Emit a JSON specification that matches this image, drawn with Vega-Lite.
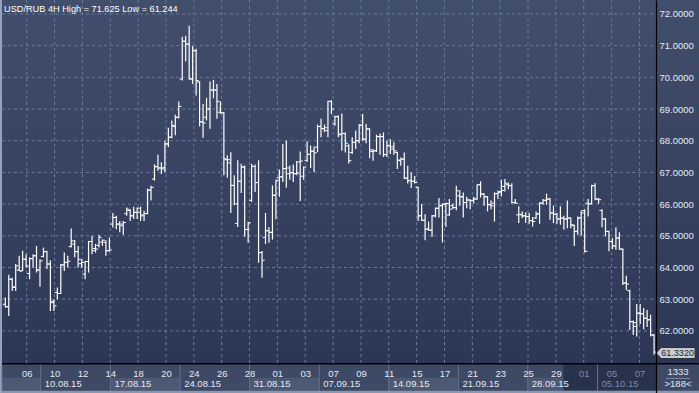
{
  "$schema": "https://vega.github.io/schema/vega-lite/v6.json",
  "width": 697,
  "height": 393,
  "autosize": "none",
  "padding": {"left": 2, "top": 0, "right": 0, "bottom": 0},
  "background": "#95a2ba",
  "config": {
    "view": {"stroke": null},
    "font": "Liberation Sans",
    "text": {"font": "Liberation Sans"},
    "axis": {"labelOverlap": false, "labelBound": false, "grid": false, "ticks": false, "labelSeparation": 0}
  },
  "datasets": {
    "bars": [
      {"i":0,"o":62.84,"h":63.05,"l":62.74,"c":62.76},
      {"i":1,"o":62.76,"h":63.77,"l":62.47,"c":63.63},
      {"i":2,"o":63.63,"h":63.68,"l":63.26,"c":63.39},
      {"i":3,"o":63.37,"h":64.11,"l":63.26,"c":64.05},
      {"i":4,"o":63.92,"h":64.37,"l":63.89,"c":63.89},
      {"i":5,"o":63.89,"h":64.53,"l":63.89,"c":64.26},
      {"i":6,"o":64.26,"h":64.42,"l":64.0,"c":64.05},
      {"i":7,"o":63.81,"h":64.32,"l":63.63,"c":64.28},
      {"i":8,"o":64.28,"h":64.42,"l":64.0,"c":64.37},
      {"i":9,"o":64.37,"h":64.68,"l":63.84,"c":63.92},
      {"i":10,"o":63.92,"h":64.26,"l":63.39,"c":64.21},
      {"i":11,"o":64.35,"h":64.63,"l":64.32,"c":64.5},
      {"i":12,"o":64.5,"h":64.53,"l":63.95,"c":64.11},
      {"i":13,"o":64.11,"h":64.23,"l":62.63,"c":62.89},
      {"i":14,"o":62.93,"h":63.0,"l":62.63,"c":62.79},
      {"i":15,"o":63.21,"h":63.37,"l":63.0,"c":63.18},
      {"i":16,"o":63.18,"h":64.11,"l":63.16,"c":64.08},
      {"i":17,"o":64.08,"h":64.47,"l":63.89,"c":64.16},
      {"i":18,"o":64.16,"h":64.37,"l":64.0,"c":64.2},
      {"i":19,"o":64.66,"h":65.23,"l":64.63,"c":64.84},
      {"i":20,"o":64.74,"h":64.87,"l":64.32,"c":64.5},
      {"i":21,"o":64.5,"h":64.68,"l":64.0,"c":64.26},
      {"i":22,"o":64.12,"h":64.26,"l":64.0,"c":64.16},
      {"i":23,"o":63.79,"h":64.21,"l":63.63,"c":64.19},
      {"i":24,"o":64.19,"h":64.84,"l":63.84,"c":64.82},
      {"i":25,"o":64.82,"h":65.0,"l":64.42,"c":64.53},
      {"i":26,"o":64.6,"h":64.74,"l":64.47,"c":64.58},
      {"i":27,"o":64.7,"h":65.03,"l":64.63,"c":64.95},
      {"i":28,"o":64.8,"h":64.89,"l":64.68,"c":64.86},
      {"i":29,"o":64.79,"h":64.86,"l":64.37,"c":64.53},
      {"i":30,"o":64.53,"h":64.95,"l":64.5,"c":64.55},
      {"i":31,"o":65.37,"h":65.72,"l":65.26,"c":65.58},
      {"i":32,"o":65.58,"h":65.63,"l":65.21,"c":65.37},
      {"i":33,"o":65.37,"h":65.47,"l":65.11,"c":65.32},
      {"i":34,"o":65.37,"h":65.47,"l":65.03,"c":65.42},
      {"i":35,"o":65.7,"h":65.89,"l":65.63,"c":65.84},
      {"i":36,"o":65.8,"h":65.84,"l":65.47,"c":65.63},
      {"i":37,"o":65.63,"h":65.92,"l":65.53,"c":65.74},
      {"i":38,"o":65.74,"h":65.89,"l":65.53,"c":65.87},
      {"i":39,"o":65.74,"h":65.92,"l":65.47,"c":65.63},
      {"i":40,"o":65.66,"h":65.79,"l":65.47,"c":65.7},
      {"i":41,"o":65.7,"h":66.49,"l":65.68,"c":66.44},
      {"i":42,"o":66.44,"h":66.58,"l":66.11,"c":66.53},
      {"i":43,"o":66.79,"h":67.26,"l":66.74,"c":67.18},
      {"i":44,"o":67.18,"h":67.56,"l":67.05,"c":67.14},
      {"i":45,"o":67.14,"h":67.32,"l":66.95,"c":67.11},
      {"i":46,"o":67.15,"h":67.99,"l":67.01,"c":67.9},
      {"i":47,"o":67.9,"h":68.41,"l":67.8,"c":68.11},
      {"i":48,"o":68.11,"h":68.64,"l":68.08,"c":68.48},
      {"i":49,"o":68.45,"h":68.82,"l":68.17,"c":68.74},
      {"i":50,"o":68.74,"h":69.24,"l":68.7,"c":69.08},
      {"i":51,"o":69.95,"h":71.28,"l":69.9,"c":71.14},
      {"i":52,"o":71.14,"h":71.31,"l":70.51,"c":71.05},
      {"i":53,"o":71.05,"h":71.625,"l":69.92,"c":69.95},
      {"i":54,"o":69.95,"h":71.0,"l":69.79,"c":70.84},
      {"i":55,"o":70.84,"h":70.9,"l":69.43,"c":69.9},
      {"i":56,"o":69.85,"h":69.88,"l":68.45,"c":68.6},
      {"i":57,"o":68.59,"h":69.16,"l":68.09,"c":68.56},
      {"i":58,"o":68.74,"h":69.35,"l":68.64,"c":69.0},
      {"i":59,"o":69.0,"h":69.87,"l":68.38,"c":69.6},
      {"i":60,"o":69.6,"h":69.92,"l":69.34,"c":69.6},
      {"i":61,"o":69.6,"h":69.79,"l":68.69,"c":69.24},
      {"i":62,"o":68.9,"h":69.24,"l":68.85,"c":68.88},
      {"i":63,"o":68.88,"h":68.9,"l":66.91,"c":67.43},
      {"i":64,"o":67.4,"h":67.54,"l":66.83,"c":67.4},
      {"i":65,"o":67.3,"h":67.64,"l":65.72,"c":66.59},
      {"i":66,"o":66.59,"h":66.91,"l":65.96,"c":66.01},
      {"i":67,"o":65.39,"h":67.38,"l":65.28,"c":66.72},
      {"i":68,"o":66.72,"h":67.27,"l":66.35,"c":67.17},
      {"i":69,"o":67.17,"h":67.22,"l":64.97,"c":65.2},
      {"i":70,"o":65.2,"h":65.44,"l":64.78,"c":65.41},
      {"i":71,"o":66.12,"h":67.27,"l":66.07,"c":67.19},
      {"i":72,"o":67.19,"h":67.25,"l":66.38,"c":66.68},
      {"i":73,"o":66.68,"h":67.38,"l":64.15,"c":64.47},
      {"i":74,"o":64.47,"h":64.52,"l":63.68,"c":64.23},
      {"i":75,"o":64.95,"h":65.72,"l":64.74,"c":65.16},
      {"i":76,"o":65.16,"h":65.28,"l":64.78,"c":65.11},
      {"i":77,"o":65.11,"h":66.59,"l":64.88,"c":66.28},
      {"i":78,"o":66.28,"h":66.77,"l":65.52,"c":66.75},
      {"i":79,"o":66.83,"h":67.09,"l":66.23,"c":66.86},
      {"i":80,"o":66.86,"h":67.9,"l":66.7,"c":67.12},
      {"i":81,"o":67.12,"h":68.01,"l":66.52,"c":67.14},
      {"i":82,"o":66.96,"h":67.22,"l":66.77,"c":66.99},
      {"i":83,"o":66.99,"h":67.25,"l":66.7,"c":66.96},
      {"i":84,"o":66.96,"h":67.36,"l":66.91,"c":66.98},
      {"i":85,"o":67.33,"h":67.66,"l":66.1,"c":67.36},
      {"i":86,"o":66.88,"h":67.19,"l":66.77,"c":67.17},
      {"i":87,"o":67.38,"h":67.98,"l":67.33,"c":67.57},
      {"i":88,"o":67.57,"h":67.85,"l":67.14,"c":67.67},
      {"i":89,"o":67.67,"h":67.82,"l":67.01,"c":67.62},
      {"i":90,"o":67.8,"h":68.51,"l":67.64,"c":68.45},
      {"i":91,"o":68.45,"h":68.69,"l":68.11,"c":68.38},
      {"i":92,"o":68.38,"h":68.51,"l":68.27,"c":68.41},
      {"i":93,"o":68.32,"h":69.26,"l":68.11,"c":69.24},
      {"i":94,"o":69.24,"h":69.28,"l":68.84,"c":69.0},
      {"i":95,"o":68.53,"h":68.79,"l":68.47,"c":68.76},
      {"i":96,"o":68.76,"h":68.8,"l":68.11,"c":68.19},
      {"i":97,"o":68.21,"h":68.86,"l":67.68,"c":68.23},
      {"i":98,"o":68.23,"h":68.26,"l":67.63,"c":67.92},
      {"i":99,"o":67.84,"h":67.89,"l":67.28,"c":67.37},
      {"i":100,"o":67.63,"h":68.11,"l":67.58,"c":67.95},
      {"i":101,"o":67.95,"h":68.32,"l":67.74,"c":68.0},
      {"i":102,"o":68.0,"h":68.53,"l":67.92,"c":68.49},
      {"i":103,"o":68.49,"h":68.84,"l":68.0,"c":68.05},
      {"i":104,"o":68.05,"h":68.53,"l":67.92,"c":68.37},
      {"i":105,"o":68.37,"h":68.4,"l":67.45,"c":67.71},
      {"i":106,"o":67.66,"h":67.74,"l":67.37,"c":67.68},
      {"i":107,"o":67.68,"h":68.19,"l":67.65,"c":68.13},
      {"i":108,"o":68.13,"h":68.23,"l":67.56,"c":68.13},
      {"i":109,"o":68.13,"h":68.26,"l":67.49,"c":67.56},
      {"i":110,"o":67.56,"h":68.0,"l":67.49,"c":67.84},
      {"i":111,"o":67.84,"h":68.05,"l":67.58,"c":67.81},
      {"i":112,"o":67.74,"h":67.95,"l":67.56,"c":67.68},
      {"i":113,"o":67.63,"h":67.65,"l":67.11,"c":67.39},
      {"i":114,"o":67.37,"h":67.47,"l":67.21,"c":67.42},
      {"i":115,"o":67.42,"h":67.63,"l":66.79,"c":66.82},
      {"i":116,"o":66.82,"h":67.21,"l":66.65,"c":66.74},
      {"i":117,"o":66.74,"h":67.0,"l":66.51,"c":66.72},
      {"i":118,"o":66.72,"h":66.89,"l":66.65,"c":66.68},
      {"i":119,"o":66.53,"h":66.55,"l":65.47,"c":65.63},
      {"i":120,"o":65.63,"h":66.0,"l":65.47,"c":65.49},
      {"i":121,"o":65.49,"h":65.68,"l":64.86,"c":65.21},
      {"i":122,"o":65.21,"h":65.45,"l":65.16,"c":65.18},
      {"i":123,"o":65.18,"h":65.66,"l":64.97,"c":65.63},
      {"i":124,"o":65.63,"h":65.89,"l":65.58,"c":65.87},
      {"i":125,"o":65.87,"h":66.19,"l":65.58,"c":65.95},
      {"i":126,"o":65.95,"h":66.02,"l":64.79,"c":66.0},
      {"i":127,"o":66.0,"h":66.05,"l":65.28,"c":66.02},
      {"i":128,"o":65.66,"h":66.16,"l":65.63,"c":65.84},
      {"i":129,"o":65.95,"h":66.02,"l":65.84,"c":65.89},
      {"i":130,"o":65.89,"h":66.58,"l":65.81,"c":66.42},
      {"i":131,"o":66.26,"h":66.44,"l":65.95,"c":66.23},
      {"i":132,"o":66.23,"h":66.37,"l":65.58,"c":66.05},
      {"i":133,"o":66.05,"h":66.23,"l":65.87,"c":66.13},
      {"i":134,"o":66.13,"h":66.15,"l":65.84,"c":66.11},
      {"i":135,"o":66.11,"h":66.23,"l":66.02,"c":66.16},
      {"i":136,"o":66.16,"h":66.63,"l":66.14,"c":66.61},
      {"i":137,"o":66.61,"h":66.72,"l":66.21,"c":66.32},
      {"i":138,"o":66.32,"h":66.34,"l":65.95,"c":66.23},
      {"i":139,"o":66.23,"h":66.25,"l":65.77,"c":65.98},
      {"i":140,"o":65.98,"h":66.11,"l":65.84,"c":65.95},
      {"i":141,"o":66.03,"h":66.37,"l":65.45,"c":66.33},
      {"i":142,"o":66.33,"h":66.43,"l":66.16,"c":66.37},
      {"i":143,"o":66.4,"h":66.77,"l":66.24,"c":66.43},
      {"i":144,"o":66.56,"h":66.79,"l":66.4,"c":66.66},
      {"i":145,"o":66.61,"h":66.68,"l":66.47,"c":66.59},
      {"i":146,"o":66.58,"h":66.66,"l":66.01,"c":66.05},
      {"i":147,"o":66.05,"h":66.16,"l":66.01,"c":66.03},
      {"i":148,"o":65.66,"h":65.93,"l":65.4,"c":65.68},
      {"i":149,"o":65.66,"h":65.77,"l":65.56,"c":65.63},
      {"i":150,"o":65.63,"h":65.74,"l":65.4,"c":65.61},
      {"i":151,"o":65.61,"h":65.72,"l":65.38,"c":65.48},
      {"i":152,"o":65.48,"h":65.59,"l":65.29,"c":65.45},
      {"i":153,"o":65.56,"h":65.77,"l":65.53,"c":65.69},
      {"i":154,"o":65.69,"h":66.06,"l":65.38,"c":66.03},
      {"i":155,"o":66.03,"h":66.16,"l":65.98,"c":66.12},
      {"i":156,"o":66.12,"h":66.33,"l":65.98,"c":66.16},
      {"i":157,"o":66.16,"h":66.19,"l":65.51,"c":65.72},
      {"i":158,"o":65.72,"h":65.95,"l":65.4,"c":65.68},
      {"i":159,"o":65.68,"h":65.72,"l":65.38,"c":65.53},
      {"i":160,"o":65.53,"h":65.93,"l":65.35,"c":65.56},
      {"i":161,"o":65.56,"h":65.63,"l":65.19,"c":65.53},
      {"i":162,"o":65.53,"h":66.11,"l":65.24,"c":65.56},
      {"i":163,"o":65.56,"h":65.58,"l":65.24,"c":65.35},
      {"i":164,"o":65.32,"h":65.35,"l":64.68,"c":65.14},
      {"i":165,"o":65.14,"h":65.61,"l":65.03,"c":65.56},
      {"i":166,"o":65.56,"h":65.8,"l":65.0,"c":65.72},
      {"i":167,"o":65.8,"h":65.84,"l":64.47,"c":64.51},
      {"i":168,"o":66.03,"h":66.16,"l":65.61,"c":66.01},
      {"i":169,"o":66.01,"h":66.61,"l":65.99,"c":66.58},
      {"i":170,"o":66.58,"h":66.66,"l":66.12,"c":66.16},
      {"i":171,"o":66.16,"h":66.19,"l":66.01,"c":66.14},
      {"i":172,"o":65.8,"h":65.84,"l":65.27,"c":65.53},
      {"i":173,"o":65.53,"h":65.56,"l":64.98,"c":65.14},
      {"i":174,"o":65.14,"h":65.16,"l":64.51,"c":64.82},
      {"i":175,"o":64.82,"h":64.93,"l":64.58,"c":64.68},
      {"i":176,"o":64.68,"h":65.27,"l":64.56,"c":64.93},
      {"i":177,"o":64.93,"h":65.11,"l":64.56,"c":64.58},
      {"i":178,"o":64.58,"h":64.6,"l":63.45,"c":63.51},
      {"i":179,"o":63.51,"h":63.74,"l":63.29,"c":63.48},
      {"i":180,"o":63.27,"h":63.3,"l":62.03,"c":62.29},
      {"i":181,"o":62.29,"h":62.33,"l":61.87,"c":62.26},
      {"i":182,"o":62.14,"h":62.85,"l":61.82,"c":62.56},
      {"i":183,"o":62.56,"h":62.85,"l":62.22,"c":62.54},
      {"i":184,"o":62.54,"h":62.72,"l":62.05,"c":62.4},
      {"i":185,"o":62.4,"h":62.66,"l":62.12,"c":62.35},
      {"i":186,"o":62.35,"h":62.51,"l":61.82,"c":61.87},
      {"i":187,"o":61.87,"h":61.9,"l":61.244,"c":61.332}
    ],
    "vgrid": [
      {"i":6.17},{"i":14.2},{"i":22.23},{"i":30.25},{"i":38.28},{"i":46.31},{"i":54.34},{"i":62.37},
      {"i":70.39},{"i":78.42},{"i":86.45},{"i":94.48},{"i":102.51},{"i":110.53},{"i":118.56},{"i":126.59},
      {"i":134.62},{"i":142.65},{"i":150.67},{"i":158.7},{"i":166.73},{"i":174.76},{"i":182.79}
    ],
    "hgrid": [
      {"v":62},{"v":63},{"v":64},{"v":65},{"v":66},{"v":67},{"v":68},{"v":69},{"v":70},{"v":71},{"v":72}
    ],
    "weeks": [
      {"start":-0.95,"end":10.2,"label":"","shade":"light"},
      {"start":10.2,"end":30.3,"label":"10.08.15","shade":"dark"},
      {"start":30.3,"end":50.4,"label":"17.08.15","shade":"light"},
      {"start":50.4,"end":70.4,"label":"24.08.15","shade":"dark"},
      {"start":70.4,"end":90.5,"label":"31.08.15","shade":"light"},
      {"start":90.5,"end":110.5,"label":"07.09.15","shade":"dark"},
      {"start":110.5,"end":130.6,"label":"14.09.15","shade":"light"},
      {"start":130.6,"end":150.6,"label":"21.09.15","shade":"dark"},
      {"start":150.6,"end":170.7,"label":"28.09.15","shade":"light"},
      {"start":170.7,"end":187.6,"label":"05.10.15","shade":"dark"}
    ],
    "last": [{"price":61.332,"label":"61.3320"}],
    "head": [{"title":"USD/RUB 4H High = 71.625 Low = 61.244"}]
  },
  "layer": [
    {
      "data": {"values": [{}]},
      "mark": {"type": "rect", "color": {"gradient": "linear", "x1": 0, "y1": 0, "x2": 0, "y2": 1, "stops": [{"offset": 0, "color": "#414e6c"}, {"offset": 1, "color": "#2c3755"}]}},
      "encoding": {
        "x": {"datum": -0.95, "type": "quantitative"},
        "x2": {"datum": 199.95},
        "y": {"datum": 72.44, "type": "quantitative"},
        "y2": {"datum": 60.96}
      }
    },
    {
      "data": {"values": [{}]},
      "mark": {"type": "rect", "color": "#3d4965"},
      "encoding": {
        "x": {"datum": -0.95, "type": "quantitative"},
        "x2": {"datum": 199.95},
        "y": {"datum": 60.96, "type": "quantitative"},
        "y2": {"datum": 60.04}
      }
    },
    {
      "data": {"name": "weeks"},
      "mark": {"type": "rect"},
      "encoding": {
        "x": {"field": "start", "type": "quantitative"},
        "x2": {"field": "end"},
        "y": {"datum": 60.52, "type": "quantitative"},
        "y2": {"datum": 60.11},
        "color": {"field": "shade", "type": "nominal", "scale": {"domain": ["light", "dark"], "range": ["#4d5874", "#3d4965"]}, "legend": null}
      }
    },
    {
      "data": {"values": [{}]},
      "mark": {"type": "rect", "color": "#29324b"},
      "encoding": {
        "x": {"datum": 160.9, "type": "quantitative"},
        "x2": {"datum": 187.6},
        "y": {"datum": 60.96, "type": "quantitative"},
        "y2": {"datum": 60.11}
      }
    },
    {
      "data": {"name": "weeks"},
      "mark": {"type": "rule", "color": "#65728e", "strokeWidth": 1},
      "encoding": {
        "x": {"field": "start", "type": "quantitative"},
        "y": {"datum": 60.96, "type": "quantitative"},
        "y2": {"datum": 60.11}
      }
    },
    {
      "data": {"values": [{}]},
      "mark": {"type": "rect", "color": "#8a96ae"},
      "encoding": {
        "x": {"datum": -0.95, "type": "quantitative"},
        "x2": {"datum": 199.95},
        "y": {"datum": 60.11, "type": "quantitative"},
        "y2": {"datum": 60.04}
      }
    },
    {
      "data": {"name": "vgrid"},
      "mark": {"type": "rule", "color": "#687a9c", "strokeDash": [3, 3], "strokeWidth": 1},
      "encoding": {
        "x": {"field": "i", "type": "quantitative"},
        "y": {"datum": 72.44, "type": "quantitative"},
        "y2": {"datum": 60.96}
      }
    },
    {
      "data": {"name": "hgrid"},
      "mark": {"type": "rule", "color": "#687a9c", "strokeDash": [3, 3], "strokeWidth": 1},
      "encoding": {
        "x": {"datum": -0.95, "type": "quantitative"},
        "x2": {"datum": 187.58},
        "y": {"field": "v", "type": "quantitative"}
      }
    },
    {
      "data": {"values": [{}]},
      "mark": {"type": "rule", "color": "#000000", "strokeWidth": 1.5},
      "encoding": {
        "x": {"datum": -0.95, "type": "quantitative"},
        "x2": {"datum": 199.95},
        "y": {"datum": 60.96, "type": "quantitative"}
      }
    },
    {
      "data": {"name": "bars"},
      "mark": {"type": "rule", "color": "#ffffff", "strokeWidth": 1.2},
      "encoding": {
        "x": {
          "field": "i", "type": "quantitative",
          "scale": {"domain": [-0.95, 199.95], "nice": false, "zero": false},
          "axis": {
            "orient": "bottom", "offset": -30, "title": null, "domain": false, "ticks": false, "grid": false,
            "tickCount": 200,
            "values": [6.17,14.2,22.23,30.25,38.28,46.31,54.34,62.37,70.39,78.42,86.45,94.48,102.51,110.53,118.56,126.59,134.62,142.65,150.67,158.7,166.73,174.76,182.79],
            "labelExpr": "['06','10','12','14','18','20','24','26','28','01','03','07','09','11','15','17','21','23','25','29','01','05','07'][indexof([6.17,14.2,22.23,30.25,38.28,46.31,54.34,62.37,70.39,78.42,86.45,94.48,102.51,110.53,118.56,126.59,134.62,142.65,150.67,158.7,166.73,174.76,182.79], datum.value)]",
            "labelFontSize": 9.5, "labelPadding": 5, "labelFlush": false, "labelOverlap": false,
            "labelFont": "Liberation Sans",
            "labelColor": {"condition": {"test": "datum.value > 160", "value": "#7d8aa6"}, "value": "#e4e9f2"},
            "zindex": 2
          }
        },
        "y": {
          "field": "l", "type": "quantitative",
          "scale": {"domain": [60.04, 72.44], "nice": false, "zero": false},
          "axis": {
            "orient": "right", "offset": -43, "title": null, "ticks": false, "grid": false,
            "domain": true, "domainColor": "#000000", "domainWidth": 1.2,
            "tickCount": 200,
            "values": [62, 63, 64, 65, 66, 67, 68, 69, 70, 71, 72],
            "format": ".4f", "labelAlign": "left", "labelBaseline": "middle", "labelPadding": 3, "labelFontSize": 9.5,
            "labelOverlap": false,
            "labelFont": "Liberation Sans",
            "labelColor": "#e6ebf4", "zindex": 2
          }
        },
        "y2": {"field": "h"}
      }
    },
    {
      "data": {"name": "bars"},
      "mark": {"type": "tick", "orient": "horizontal", "size": 2.5, "thickness": 1, "xOffset": -1.4, "color": "#ffffff", "opacity": 1},
      "encoding": {
        "x": {"field": "i", "type": "quantitative"},
        "y": {"field": "o", "type": "quantitative"}
      }
    },
    {
      "data": {"name": "bars"},
      "mark": {"type": "tick", "orient": "horizontal", "size": 2.5, "thickness": 1, "xOffset": 1.4, "color": "#ffffff", "opacity": 1},
      "encoding": {
        "x": {"field": "i", "type": "quantitative"},
        "y": {"field": "c", "type": "quantitative"}
      }
    },
    {
      "data": {"values": [{}]},
      "mark": {"type": "rect", "color": "#c8ccd3", "stroke": "#2b2f38", "strokeWidth": 1},
      "encoding": {
        "x": {"datum": 188.87, "type": "quantitative"},
        "x2": {"datum": 198.82},
        "y": {"datum": 61.474, "type": "quantitative"},
        "y2": {"datum": 61.127}
      }
    },
    {
      "data": {"values": [{}]},
      "mark": {"type": "point", "shape": "M0.5,-1L-0.5,0L0.5,1Z", "size": 121, "filled": true, "color": "#c8ccd3", "opacity": 1},
      "encoding": {
        "x": {"datum": 188.45, "type": "quantitative"},
        "y": {"datum": 61.3, "type": "quantitative"}
      }
    },
    {
      "data": {"name": "last"},
      "mark": {"type": "text", "align": "left", "baseline": "middle", "fontSize": 9, "color": "#1a1f2b", "dy": 1},
      "encoding": {
        "x": {"datum": 189.1, "type": "quantitative"},
        "y": {"field": "price", "type": "quantitative"},
        "text": {"field": "label"}
      }
    },
    {
      "data": {"name": "weeks"},
      "mark": {"type": "text", "align": "left", "baseline": "middle", "fontSize": 9.5, "dx": 4},
      "encoding": {
        "x": {"field": "start", "type": "quantitative"},
        "y": {"datum": 60.32, "type": "quantitative"},
        "text": {"field": "label"},
        "color": {"condition": {"test": "datum.start > 160", "value": "#7d8aa6"}, "value": "#e4e9f2"}
      }
    },
    {
      "data": {"name": "head"},
      "mark": {"type": "text", "align": "left", "baseline": "alphabetic", "fontSize": 9.2, "color": "#ffffff"},
      "encoding": {
        "x": {"datum": -0.37, "type": "quantitative"},
        "y": {"datum": 72.06, "type": "quantitative"},
        "text": {"field": "title"}
      }
    },
    {
      "data": {"values": [{}]},
      "mark": {"type": "text", "text": "1333", "align": "center", "baseline": "middle", "fontSize": 9.5, "color": "#e4e9f2"},
      "encoding": {
        "x": {"datum": 193.9, "type": "quantitative"},
        "y": {"datum": 60.7, "type": "quantitative"}
      }
    },
    {
      "data": {"values": [{}]},
      "mark": {"type": "text", "text": ">188<", "align": "center", "baseline": "middle", "fontSize": 9.5, "color": "#e4e9f2"},
      "encoding": {
        "x": {"datum": 193.9, "type": "quantitative"},
        "y": {"datum": 60.32, "type": "quantitative"}
      }
    },
    {
      "data": {"values": [{}]},
      "mark": {"type": "rule", "color": "#7e8aa3", "strokeWidth": 1},
      "encoding": {
        "x": {"datum": 190.4, "type": "quantitative"},
        "x2": {"datum": 197.4},
        "y": {"datum": 60.5, "type": "quantitative"}
      }
    }
  ]
}
